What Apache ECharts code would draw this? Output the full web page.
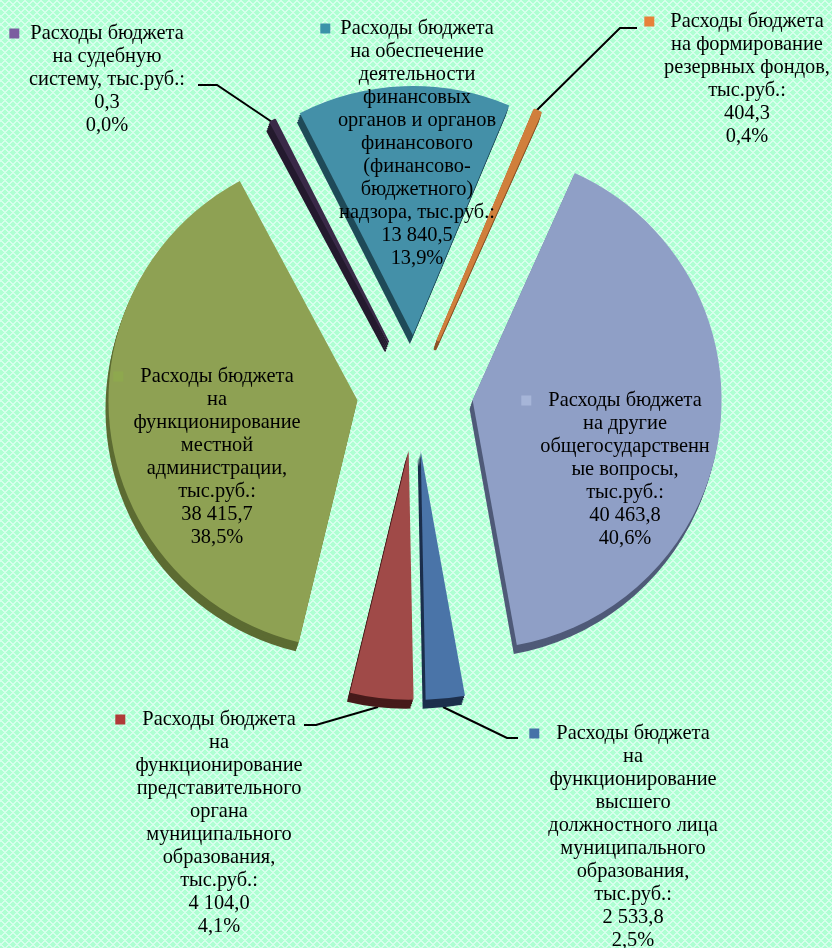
<!DOCTYPE html>
<html><head><meta charset="utf-8">
<style>html,body{margin:0;padding:0;background:#b4ffd8}#c{width:832px;height:948px}</style>
<script src="https://cdn.jsdelivr.net/npm/echarts@6/dist/echarts.min.js"></script>
</head><body><div id="c"></div>
<script>
const categories = ['надзор','резерв','другие','высшее','представительный','администрация','судебная'];
const seriesValues = [13840.5, 404.3, 40463.8, 2533.8, 4104.0, 38415.7, 0.3];
const sliceColors = ['#4490a8','#d07f3c','#8f9fc6','#4a74a8','#a04a48','#8ea153','#3a2a48'];
const sideColors  = ['#1f4a58','#8c5226','#4f5a78','#1c2f4c','#461a1a','#5c6b32','#241a2e'];
const keyColors   = ['#3b93a9','#e7813a','#a6b5d8','#4672a8','#b03a38','#8ea84e','#7b5ea0'];
const sliceBorders = [0,3,0,0,0,0,2];
const labelLines = [
 ['Расходы бюджета','на обеспечение','деятельности','финансовых','органов и органов','финансового','(финансово-','бюджетного)','надзора, тыс.руб.:','13 840,5','13,9%'],
 ['Расходы бюджета','на формирование','резервных фондов,','тыс.руб.:','404,3','0,4%'],
 ['Расходы бюджета','на другие','общегосударственн','ые вопросы,','тыс.руб.:','40 463,8','40,6%'],
 ['Расходы бюджета','на','функционирование','высшего','должностного лица','муниципального','образования,','тыс.руб.:','2 533,8','2,5%'],
 ['Расходы бюджета','на','функционирование','представительного','органа','муниципального','образования,','тыс.руб.:','4 104,0','4,1%'],
 ['Расходы бюджета','на','функционирование','местной','администрации,','тыс.руб.:','38 415,7','38,5%'],
 ['Расходы бюджета','на судебную','систему, тыс.руб.:','0,3','0,0%']
];
const labelCentre = [[417,17],[747,10],[625,389],[633,722],[219,708],[217,365],[107,22]];
const keyGaps = [10,16,17,17,17,17,11];
const leaderLines = [null,[[536,111],[620,28],[637,28]],null,[[443,707],[507,738],[518,738]],[[378,707],[316,725],[304,725]],null,[[272,122],[217,85],[198,85]]];
const lh = 23, R = 249, OFF = 58, CX = 415, CY = 393;

function pattern(){
  const s=8, c=document.createElement('canvas'); c.width=c.height=s;
  const g=c.getContext('2d');
  g.fillStyle='#aeffd2'; g.fillRect(0,0,s,s);
  g.fillStyle='#d6ffec';
  for(let y=0;y<s;y++)for(let x=0;x<s;x++){
    if(((x+y)%s)<1.5||((x-y+s)%s)<1.5) g.fillRect(x,y,1,1);
  }
  return c;
}
function baseData(colors,selected){
  return seriesValues.map((v,i)=>({name:categories[i],value:v,selected,
    itemStyle:{color:colors[i],borderColor:colors[i],borderWidth:sliceBorders[i]}}));
}
const common={type:'pie',animation:false,silent:true,radius:[0,R],startAngle:117,minAngle:1.2,
  emphasis:{disabled:true},avoidLabelOverlap:false};
const series=[];
for(const k of [1,.75,.5,.25]){
  series.push({...common,center:[CX-3*k,CY+9*k],selectedMode:'multiple',selectedOffset:OFF,
    label:{show:false},labelLine:{show:false},select:{itemStyle:{}},data:baseData(sideColors,true)});
}
series.push({...common,center:[CX,CY],selectedMode:'multiple',selectedOffset:OFF,
  label:{show:false},labelLine:{show:false},select:{itemStyle:{}},data:baseData(sliceColors,true)});
// label carrier: same values, invisible sectors, not exploded, so labels are placed absolutely
const labelData=seriesValues.map((v,i)=>{
  const lines=labelLines[i];
  const first=`{k${i}|}{g${i}|}{t|${lines[0]}}{g${i}|}{p|}`;
  return {name:categories[i],value:v,itemStyle:{color:'transparent'},
    label:{formatter:[first,...lines.slice(1).map(l=>`{t|${l}}`)].join('\n')},
    labelLine:{show:!!leaderLines[i]}};
});
const rich={t:{fontFamily:'Liberation Serif',fontSize:20.4,color:'#000',lineHeight:lh,height:lh},p:{width:10,height:10}};
keyColors.forEach((c,i)=>{rich['k'+i]={width:10,height:10,backgroundColor:c};rich['g'+i]={width:keyGaps[i],height:10};});
series.push({...common,center:[CX,CY],
  label:{show:true,position:'outside',overflow:'none',rich,color:'#000',lineHeight:lh},
  labelLine:{show:true,lineStyle:{color:'#000',width:2}},
  labelLayout:p=>({x:labelCentre[p.dataIndex][0],y:labelCentre[p.dataIndex][1],align:'center',verticalAlign:'top',
    labelLinePoints:leaderLines[p.dataIndex]||undefined}),
  data:labelData});
const chart=echarts.init(document.getElementById('c'),null,{renderer:'canvas'});
chart.setOption({animation:false,backgroundColor:{image:pattern(),repeat:'repeat'},series});
</script></body></html>
